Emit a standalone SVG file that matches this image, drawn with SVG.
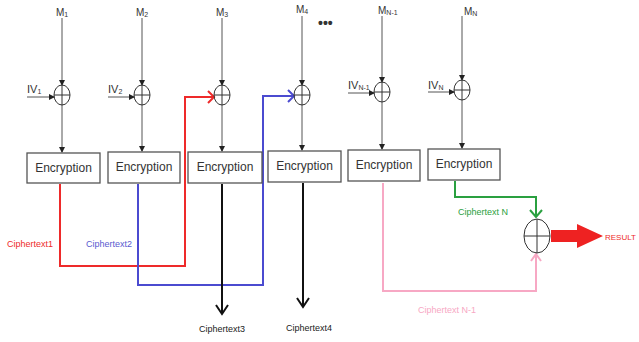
<svg xmlns="http://www.w3.org/2000/svg" width="639" height="342" viewBox="0 0 639 342">
<style>
.t{font-family:"Liberation Sans",Arial,sans-serif;fill:#333}
.m{font-size:10px}
.sub{font-size:7px}
.iv{font-size:11px}
.enc{font-size:12px}
.box{fill:#fff;stroke:#555;stroke-width:1.3}
.x{fill:none;stroke:#333;stroke-width:1}
.g{fill:none;stroke:#555;stroke-width:1}
.lab{font-size:9px}
</style>
<defs>
<marker id="ah" markerWidth="6" markerHeight="6" refX="5" refY="3" orient="auto" markerUnits="userSpaceOnUse"><path d="M0,0 L6,3 L0,6 Z" fill="#222"/></marker>
</defs>
<g id="connectors">
<g class="g" marker-end="url(#ah)">
<line x1="62" y1="18" x2="62" y2="85"/><line x1="27" y1="97" x2="54" y2="97"/><line x1="62" y1="105" x2="62" y2="152"/>
<line x1="142" y1="18" x2="142" y2="85"/><line x1="108" y1="97" x2="134" y2="97"/><line x1="142" y1="105" x2="142" y2="151"/>
<line x1="222" y1="18" x2="222" y2="85"/><line x1="222" y1="105" x2="222" y2="151"/>
<line x1="302" y1="16" x2="302" y2="85"/><line x1="302" y1="105" x2="302" y2="150"/>
<line x1="382" y1="16" x2="382" y2="82"/><line x1="348" y1="93" x2="374" y2="93"/><line x1="382" y1="102" x2="382" y2="149"/>
<line x1="462" y1="16" x2="462" y2="80"/><line x1="428" y1="92" x2="454" y2="92"/><line x1="462" y1="100" x2="462" y2="148"/>
</g>
<path d="M60,184 V266 H185 V97 H213" fill="none" stroke="#ee2a2a" stroke-width="2"/>
<path d="M208,91 L214,97 L208,103" fill="none" stroke="#ee2a2a" stroke-width="2"/>
<path d="M138,184 V285 H263 V96 H293" fill="none" stroke="#4b4bd0" stroke-width="2"/>
<path d="M288,90 L294,96 L288,102" fill="none" stroke="#4b4bd0" stroke-width="2"/>
<path d="M222,184 V314" fill="none" stroke="#111" stroke-width="2"/>
<path d="M216,305 L222,314 L228,305" fill="none" stroke="#111" stroke-width="2"/>
<path d="M303,183 V307" fill="none" stroke="#111" stroke-width="2"/>
<path d="M297,298 L303,307 L309,298" fill="none" stroke="#111" stroke-width="2"/>
<path d="M455,181 V197 H536 V216" fill="none" stroke="#2aa040" stroke-width="2"/>
<path d="M530,210 L536,217 L542,210" fill="none" stroke="#2aa040" stroke-width="2"/>
<path d="M383,183 V291 H536 V255" fill="none" stroke="#f7a8c4" stroke-width="2"/>
<path d="M531,261 L536,254 L541,261" fill="none" stroke="#f7a8c4" stroke-width="2"/>
<path d="M551,230 H577 V224 L603,236 L577,248 V242 H551 Z" fill="#ee2222"/>
</g>
<g id="xor1"><ellipse class="x" cx="62" cy="95" rx="8" ry="10"/><path class="x" d="M54,95 H70 M62,85 V105"/></g>
<g id="xor2"><ellipse class="x" cx="142" cy="95" rx="8" ry="10"/><path class="x" d="M134,95 H150 M142,85 V105"/></g>
<g id="xor3"><ellipse class="x" cx="222" cy="95" rx="8" ry="10"/><path class="x" d="M214,95 H230 M222,85 V105"/></g>
<g id="xor4"><ellipse class="x" cx="302" cy="95" rx="8" ry="10"/><path class="x" d="M294,95 H310 M302,85 V105"/></g>
<g id="xorN1"><ellipse class="x" cx="382" cy="92" rx="8" ry="10"/><path class="x" d="M374,92 H390 M382,82 V102"/></g>
<g id="xorN"><ellipse class="x" cx="462" cy="90" rx="8" ry="10"/><path class="x" d="M454,90 H470 M462,80 V100"/></g>
<g id="xorFinal"><ellipse class="x" cx="537" cy="236" rx="13" ry="17"/><path class="x" d="M524,236 H550 M537,219 V253"/></g>
<g id="labelsM">
<text class="t m" x="56" y="16">M<tspan class="sub" dy="1">1</tspan></text>
<text class="t m" x="136" y="16">M<tspan class="sub" dy="1">2</tspan></text>
<text class="t m" x="216" y="16">M<tspan class="sub" dy="1">3</tspan></text>
<text class="t m" x="296" y="13">M<tspan class="sub" dy="1">4</tspan></text>
<text class="t m" x="378" y="14">M<tspan class="sub" dy="1">N-1</tspan></text>
<text class="t m" x="464" y="15">M<tspan class="sub" dy="1">N</tspan></text>
<text class="t" x="318" y="28" font-size="14" font-weight="bold" fill="#222">•••</text>
</g>
<g id="labelsIV">
<text class="t iv" x="27" y="93">IV<tspan class="sub" dy="1">1</tspan></text>
<text class="t iv" x="108" y="93">IV<tspan class="sub" dy="1">2</tspan></text>
<text class="t iv" x="348" y="89">IV<tspan class="sub" dy="1">N-1</tspan></text>
<text class="t iv" x="428" y="89">IV<tspan class="sub" dy="1">N</tspan></text>
</g>
<g id="enc1"><rect class="box" x="27" y="153" width="73" height="30"/><text class="t enc" x="63.5" y="172" text-anchor="middle">Encryption</text></g>
<g id="enc2"><rect class="box" x="108" y="152" width="72" height="31"/><text class="t enc" x="144" y="171" text-anchor="middle">Encryption</text></g>
<g id="enc3"><rect class="box" x="188" y="152" width="74" height="31"/><text class="t enc" x="225" y="171" text-anchor="middle">Encryption</text></g>
<g id="enc4"><rect class="box" x="268" y="151" width="73" height="31"/><text class="t enc" x="304.5" y="170" text-anchor="middle">Encryption</text></g>
<g id="encN1"><rect class="box" x="348" y="150" width="72" height="31"/><text class="t enc" x="384" y="169" text-anchor="middle">Encryption</text></g>
<g id="encN"><rect class="box" x="428" y="149" width="72" height="31"/><text class="t enc" x="464" y="168" text-anchor="middle">Encryption</text></g>
<g id="outLabels">
<text class="t lab" x="7" y="247" style="fill:#ee2a2a">Ciphertext1</text>
<text class="t lab" x="86" y="247" style="fill:#5a5ad0">Ciphertext2</text>
<text class="t lab" x="222" y="332" text-anchor="middle" style="fill:#222">Ciphertext3</text>
<text class="t lab" x="309" y="331" text-anchor="middle" style="fill:#222">Ciphertext4</text>
<text class="t lab" x="458" y="215" style="fill:#2aa040">Ciphertext N</text>
<text class="t lab" x="418" y="313" style="fill:#f7a8c4">Ciphertext N-1</text>
<text class="t" x="605" y="240" font-size="8" style="fill:#ee2a2a">RESULT</text>
</g>
</svg>
